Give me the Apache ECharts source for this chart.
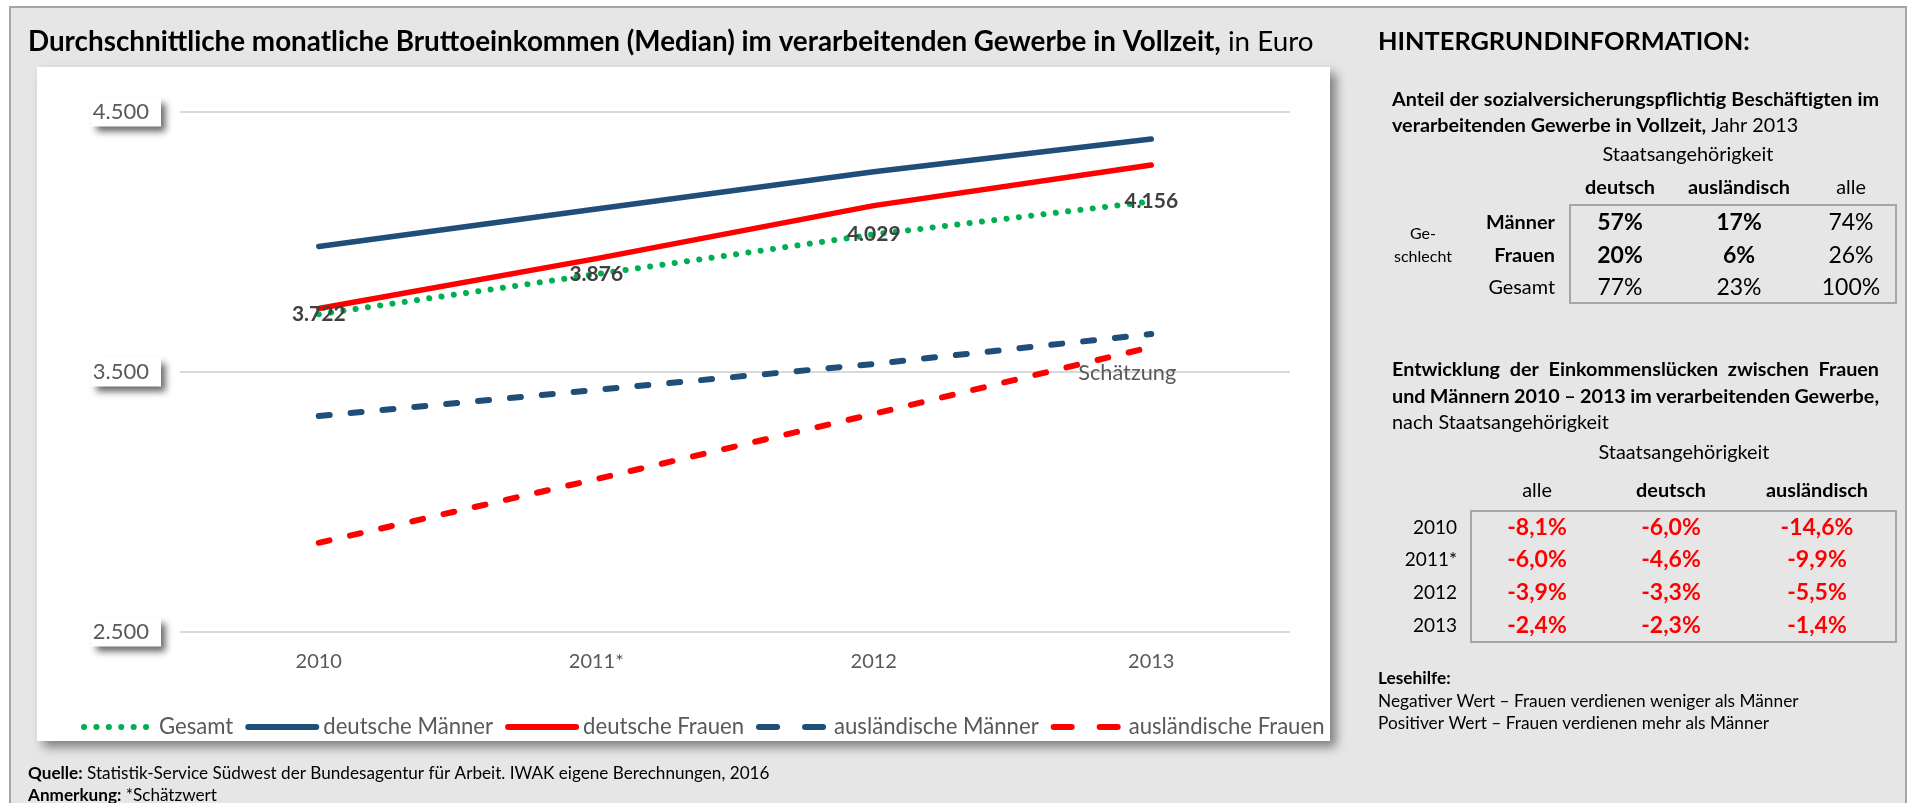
<!DOCTYPE html>
<html lang="de">
<head>
<meta charset="utf-8">
<title>Bruttoeinkommen im verarbeitenden Gewerbe</title>
<script src="https://cdn.jsdelivr.net/npm/echarts@6.0.0/dist/echarts.min.js"></script>
<style>
  html, body { margin: 0; padding: 0; background: #fff; }
  #chart { width: 1912px; height: 803px; }
</style>
</head>
<body>
<div id="chart"></div>
<script>
// Daten: Median-Bruttoeinkommen in Euro
const years = ['2010', '2011*', '2012', '2013'];
const gesamt = [3722, 3876, 4029, 4156];
const deutscheMaenner = [3983, 4127, 4270, 4396];
const deutscheFrauen = [3744, 3936, 4140, 4296];
const auslMaenner = [3331, 3431, 3531, 3646];
const auslFrauen = [2843, 3088, 3339, 3596];
const yTicks = [2500, 3500, 4500];

// Tabelle 1: Anteil der Beschäftigten, Jahr 2013
const shareCols = ['deutsch', 'ausländisch', 'alle'];
const shareRows = ['Männer', 'Frauen', 'Gesamt'];
const shareValues = [
  ['57%', '17%', '74%'],
  ['20%', '6%', '26%'],
  ['77%', '23%', '100%']
];

// Tabelle 2: Einkommenslücken Frauen/Männer
const gapCols = ['alle', 'deutsch', 'ausländisch'];
const gapRows = ['2010', '2011*', '2012', '2013'];
const gapValues = [
  ['-8,1%', '-6,0%', '-14,6%'],
  ['-6,0%', '-4,6%', '-9,9%'],
  ['-3,9%', '-3,3%', '-5,5%'],
  ['-2,4%', '-2,3%', '-1,4%']
];

const FONT = 'Lato, "Open Sans", sans-serif';
const NAVY = '#1F4E79';
const RED = '#FF0000';
const GREEN = '#00B050';

// Hilfsfunktionen
const ctx = document.createElement('canvas').getContext('2d');
const measure = (text, size, weight) => {
  ctx.font = `${weight} ${size}px ${FONT}`;
  return ctx.measureText(text).width;
};
// Schriftgröße so wählen, dass der Text die Zielbreite hat
const fit = (text, weight, target) => 20 * target / measure(text, 20, weight);
const fmt = (v) => String(v).replace(/\B(?=(\d{3})+(?!\d))/g, '.');

const txt = (x, y, text, size, weight, color, align) => ({
  type: 'text',
  z: 10,
  style: {
    text: text,
    x: x,
    y: y,
    fontSize: size,
    fontWeight: weight,
    fontFamily: FONT,
    fill: color || '#000',
    textAlign: align || 'left',
    textVerticalAlign: 'middle'
  }
});

// Blocksatz: Wörter gleichmäßig zwischen x0 und x1 verteilen
const justify = (line, x0, x1, y, size, weight) => {
  const words = line.split(' ');
  const widths = words.map((w) => measure(w, size, weight));
  const total = widths.reduce((a, b) => a + b, 0);
  const gap = (x1 - x0 - total) / (words.length - 1);
  let x = x0;
  return words.map((w, i) => {
    const el = txt(x, y, w, size, weight);
    x += widths[i] + gap;
    return el;
  });
};

// zwei Textteile nebeneinander (fett + normal)
const mixed = (x, y, boldPart, normalPart, size) => [
  txt(x, y, boldPart, size, 'bold'),
  txt(x + measure(boldPart, size, 'bold'), y, normalPart, size, 'normal')
];
const fitMixed = (boldPart, normalPart, target) =>
  20 * target / (measure(boldPart, 20, 'bold') + measure(normalPart, 20, 'normal'));

const rect = (x, y, w, h, style, z) => ({
  type: 'rect',
  z: z,
  shape: { x: x, y: y, width: w, height: h },
  style: style
});

// Schriftgrößen
const titleBold = 'Durchschnittliche monatliche Bruttoeinkommen (Median) im verarbeitenden Gewerbe in Vollzeit,';
const titleSize = fitMixed(titleBold, ' in Euro', 1286);
const headSize = fit('HINTERGRUNDINFORMATION:', 'bold', 372);
const bodySize = fit('Anteil der sozialversicherungspflichtig Beschäftigten im', 'bold', 486);
const nachSize = fit('nach Staatsangehörigkeit', 'normal', 217);
const staatSize = fit('Staatsangehörigkeit', 'normal', 171);
const colSize = fit('ausländisch', 'bold', 102);
const rowSize = fit('Männer', 'bold', 69);
const noteSize = fit('Negativer Wert – Frauen verdienen weniger als Männer', 'normal', 421);
const footSize = fitMixed('Quelle:', ' Statistik-Service Südwest der Bundesagentur für Arbeit. IWAK eigene Berechnungen, 2016', 742);
const legendSize = fit('deutsche Männer', 'normal', 170);
const schaetzSize = fit('Schätzung', 'normal', 98);

// Grafikelemente: Rahmen, Panel, Texte, Tabellen
const elements = [];
elements.push(rect(10, 7, 1896, 820, { fill: '#E6E6E6', stroke: '#A6A6A6', lineWidth: 2 }, -100));
elements.push(rect(37, 67, 1293, 674, {
  fill: '#fff',
  shadowBlur: 10,
  shadowOffsetX: 6,
  shadowOffsetY: 6,
  shadowColor: 'rgba(0,0,0,0.45)'
}, -90));

// Titel
elements.push(...mixed(28, 42, titleBold, ' in Euro', titleSize));

// rechte Seite
elements.push(txt(1378, 42, 'HINTERGRUNDINFORMATION:', headSize, 'bold'));
elements.push(...justify('Anteil der sozialversicherungspflichtig Beschäftigten im', 1392, 1879, 100, bodySize, 'bold'));
elements.push(...mixed(1392, 126, 'verarbeitenden Gewerbe in Vollzeit,', ' Jahr 2013', bodySize));
elements.push(txt(1688, 155, 'Staatsangehörigkeit', staatSize, 'normal', '#000', 'center'));

const shareColX = [1620, 1739, 1851];
const shareRowY = [223, 256, 288];
shareCols.forEach((c, j) => {
  elements.push(txt(shareColX[j], 188, c, colSize, j < 2 ? 'bold' : 'normal', '#000', 'center'));
});
elements.push(rect(1570, 205, 326, 98, { fill: 'none', stroke: '#A6A6A6', lineWidth: 2 }, 5));
elements.push(txt(1423, 234, 'Ge-', 16, 'normal', '#000', 'center'));
elements.push(txt(1423, 257, 'schlecht', 16, 'normal', '#000', 'center'));
shareRows.forEach((r, i) => {
  elements.push(txt(1555, shareRowY[i], r, rowSize, i < 2 ? 'bold' : 'normal', '#000', 'right'));
  shareValues[i].forEach((v, j) => {
    elements.push(txt(shareColX[j], shareRowY[i], v, 23, i < 2 && j < 2 ? 'bold' : 'normal', '#000', 'center'));
  });
});

elements.push(...justify('Entwicklung der Einkommenslücken zwischen Frauen', 1392, 1879, 370, bodySize, 'bold'));
elements.push(...justify('und Männern 2010 – 2013 im verarbeitenden Gewerbe,', 1392, 1879, 397, bodySize, 'bold'));
elements.push(txt(1392, 423, 'nach Staatsangehörigkeit', nachSize, 'normal'));
elements.push(txt(1684, 453, 'Staatsangehörigkeit', staatSize, 'normal', '#000', 'center'));

const gapColX = [1537, 1671, 1817];
const gapRowY = [528, 560, 593, 626];
gapCols.forEach((c, j) => {
  elements.push(txt(gapColX[j], 491, c, colSize, j === 0 ? 'normal' : 'bold', '#000', 'center'));
});
elements.push(rect(1471, 511, 425, 131, { fill: 'none', stroke: '#A6A6A6', lineWidth: 2 }, 5));
gapRows.forEach((r, i) => {
  elements.push(txt(1457, gapRowY[i], r, 19, 'normal', '#000', 'right'));
  gapValues[i].forEach((v, j) => {
    elements.push(txt(gapColX[j], gapRowY[i], v, 23, 'bold', RED, 'center'));
  });
});

elements.push(txt(1378, 678, 'Lesehilfe:', noteSize, 'bold'));
elements.push(txt(1378, 701, 'Negativer Wert – Frauen verdienen weniger als Männer', noteSize, 'normal'));
elements.push(txt(1378, 723, 'Positiver Wert – Frauen verdienen mehr als Männer', noteSize, 'normal'));

// Fußnote
elements.push(...mixed(28, 773, 'Quelle:', ' Statistik-Service Südwest der Bundesagentur für Arbeit. IWAK eigene Berechnungen, 2016', footSize));
elements.push(...mixed(28, 795, 'Anmerkung:', ' *Schätzwert', footSize));

// Linien-Serien (unsichtbare Symbole, damit Beschriftungen erscheinen)
const DOTS = [0.1, 12.3];
const DASH = [11, 21];
const lineSeries = (name, data, color, type, width, extra) => Object.assign({
  name: name,
  type: 'line',
  data: data,
  symbol: 'circle',
  symbolSize: 2,
  itemStyle: { color: 'rgba(0,0,0,0)' },
  lineStyle: { color: color, width: width, type: type, cap: 'round', join: 'round' },
  emphasis: { disabled: true },
  z: 3
}, extra || {});

const series = [
  lineSeries('Gesamt', gesamt, GREEN, DOTS, 6, {
    z: 4,
    label: {
      show: true,
      position: 'inside',
      color: '#404040',
      fontSize: 21,
      fontWeight: 'bold',
      fontFamily: FONT,
      formatter: (p) => fmt(p.value)
    }
  }),
  lineSeries('deutsche Männer', deutscheMaenner, NAVY, 'solid', 5.5),
  lineSeries('deutsche Frauen', deutscheFrauen, RED, 'solid', 5.5),
  lineSeries('ausländische Männer', auslMaenner, NAVY, DASH, 6),
  lineSeries('ausländische Frauen', auslFrauen.map((v, i) => i === auslFrauen.length - 1 ? {
    value: v,
    label: {
      show: true,
      position: 'inside',
      offset: [-24, 26],
      formatter: 'Schätzung',
      color: '#595959',
      fontSize: schaetzSize,
      fontFamily: FONT
    }
  } : v), RED, DASH, 6)
];

const legendLine = (name, color, type) => ({
  name: name,
  lineStyle: { color: color, width: 6, type: type, cap: 'round' }
});

const chart = echarts.init(document.getElementById('chart'), null, { renderer: 'canvas' });

chart.setOption({
  animation: false,
  graphic: { elements: elements },
  grid: { left: 180, top: 112, width: 1110, height: 520, containLabel: false },
  xAxis: {
    type: 'category',
    data: years,
    boundaryGap: true,
    axisLine: { show: false },
    axisTick: { show: false },
    axisLabel: { color: '#595959', fontSize: 20, fontFamily: FONT, margin: 20 }
  },
  yAxis: {
    type: 'value',
    min: yTicks[0],
    max: yTicks[yTicks.length - 1],
    interval: yTicks[1] - yTicks[0],
    axisLine: { show: false },
    axisTick: { show: false },
    splitLine: { lineStyle: { color: '#D9D9D9', width: 2 } },
    axisLabel: {
      color: '#595959',
      fontSize: 22,
      fontFamily: FONT,
      margin: 19,
      formatter: (v) => fmt(v),
      backgroundColor: '#fff',
      padding: [4, 12, 3, 2],
      shadowColor: 'rgba(0,0,0,0.6)',
      shadowBlur: 7,
      shadowOffsetX: 5,
      shadowOffsetY: 5
    }
  },
  legend: {
    left: 76,
    top: 711,
    itemWidth: 68,
    itemHeight: 14,
    itemGap: 12,
    textStyle: { color: '#595959', fontSize: legendSize, fontFamily: FONT, padding: [0, 0, 0, 2] },
    data: [
      legendLine('Gesamt', GREEN, DOTS),
      legendLine('deutsche Männer', NAVY, 'solid'),
      legendLine('deutsche Frauen', RED, 'solid'),
      legendLine('ausländische Männer', NAVY, [18, 28]),
      legendLine('ausländische Frauen', RED, [18, 28])
    ]
  },
  series: series
});
</script>
</body>
</html>
